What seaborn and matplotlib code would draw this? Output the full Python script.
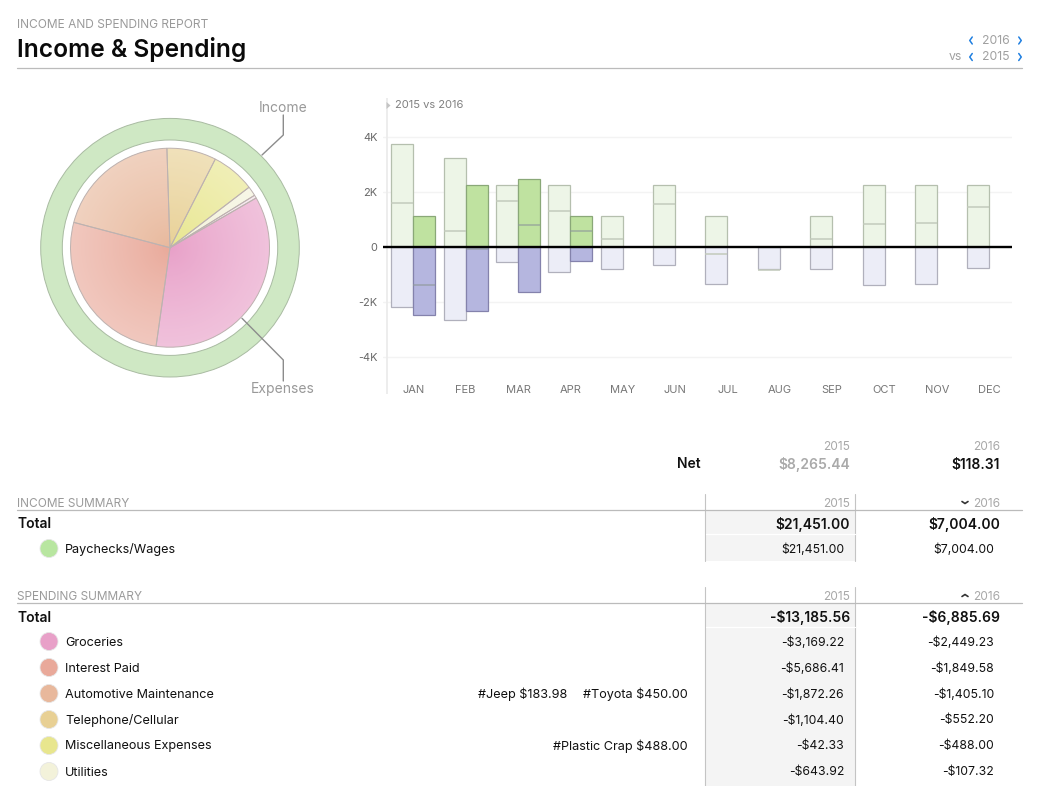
import numpy as np
import pandas as pd
import matplotlib
matplotlib.use("Agg")
import matplotlib.pyplot as plt
from matplotlib.patches import Circle, Rectangle
import seaborn as sns

W, H = 1038, 786

months = ["JAN", "FEB", "MAR", "APR", "MAY", "JUN", "JUL", "AUG", "SEP", "OCT", "NOV", "DEC"]
income_2015 = [3745, 3240, 2250, 2250, 1130, 2250, 1130, np.nan, 1130, 2250, 2250, 2250]
income_2016 = [1130, 2250, 2470, 1130, np.nan, np.nan, np.nan, np.nan, np.nan, np.nan, np.nan, np.nan]
spend_2015_m = [-2160, -2650, -550, -910, -800, -650, -1350, -800, -800, -1380, -1350, -760]
spend_2016_m = [-2470, -2330, -1640, -510, np.nan, np.nan, np.nan, np.nan, np.nan, np.nan, np.nan, np.nan]
net_2015 = [1620, 590, 1700, 1330, 310, 1590, -230, -820, 310, 860, 900, 1480]
net_2016 = [-1360, -70, 820, 590]

categories = ["Groceries", "Interest Paid", "Automotive Maintenance", "Telephone/Cellular",
              "Miscellaneous Expenses", "Utilities"]
cat_colors = ["#e8a0c8", "#e9a99a", "#e8b89c", "#e8d094", "#e8e68e", "#f3f2da"]
spend_2015 = [-3169.22, -5686.41, -1872.26, -1104.40, -42.33, -643.92]
spend_2016 = [-2449.23, -1849.58, -1405.10, -552.20, -488.00, -107.32]
other_2016 = -34.26
tags = {2: [("#Jeep $183.98", 567), ("#Toyota $450.00", 688)], 4: [("#Plastic Crap $488.00", 688)]}
income_total = [21451.00, 7004.00]
spend_total = [-13185.56, -6885.69]
net_total = [8265.44, 118.31]


def money(v):
    return f"-${abs(v):,.2f}" if v < 0 else f"${v:,.2f}"


def px_axes(fig, left, top, right, bottom):
    return fig.add_axes([left / W, 1 - bottom / H, (right - left) / W, (bottom - top) / H])


sns.set_theme(style="white")
plt.rcParams["font.family"] = ["Inter", "DejaVu Sans"]

fig = plt.figure(figsize=(W / 100, H / 100), dpi=100, facecolor="white")

# overlay in pixel coordinates for the report text and rules
ov = fig.add_axes([0, 0, 1, 1], zorder=5)
ov.set_xlim(0, W)
ov.set_ylim(H, 0)
ov.axis("off")
ov.patch.set_alpha(0)


def txt(x, y, s, size=9.4, color="#111111", ha="left", weight="normal"):
    ov.text(x, y + 1, s, fontsize=size, color=color, ha=ha, va="center", fontweight=weight)


def chevron(x, y, kind, color, w=2.5, h=3.5, lw=1.1):
    if kind == "left":
        ov.plot([x + w / 2, x - w / 2, x + w / 2], [y - h, y, y + h], color=color, lw=lw)
    elif kind == "right":
        ov.plot([x - w / 2, x + w / 2, x - w / 2], [y - h, y, y + h], color=color, lw=lw)
    elif kind == "down":
        ov.plot([x - h, x, x + h], [y - w / 2, y + w / 2, y - w / 2], color=color, lw=lw)
    else:
        ov.plot([x - h, x, x + h], [y + w / 2, y - w / 2, y + w / 2], color=color, lw=lw)


# header
txt(17, 24.5, "INCOME AND SPENDING REPORT", size=8.6, color="#9a9a9a")
txt(17, 48.5, "Income & Spending", size=17.65, color="#0a0a0a", weight="semibold")
ov.plot([17, 1022], [68, 68], color="#bbbbbb", lw=0.9)
txt(996, 40, "2016", size=8.8, color="#a0a0a0", ha="center")
txt(996, 56.5, "2015", size=8.8, color="#a0a0a0", ha="center")
txt(955, 56.5, "vs", size=8.8, color="#a0a0a0", ha="center")
for yy in (40.5, 57):
    chevron(971, yy, "left", "#1f7fe0")
    chevron(1020, yy, "right", "#1f7fe0")

# pie and income ring
pie_ax = px_axes(fig, 170 - 135, 247.7 - 135, 170 + 135, 247.7 + 135)
pie_vals = [abs(v) for v in spend_2016] + [abs(other_2016)]
pie_cols = cat_colors + ["#f3dfe8"]
pie_ax.pie([income_total[1]], radius=129.3, colors=["#cfe8c4"], startangle=90,
           wedgeprops=dict(width=21.6, edgecolor="#a9bba2", linewidth=0.7))
wedges, _ = pie_ax.pie(pie_vals, radius=99.5, colors=pie_cols, startangle=30, counterclock=False,
                       wedgeprops=dict(linewidth=0))
xx, yy = np.meshgrid(np.linspace(-100, 100, 400), np.linspace(-100, 100, 400))
rr = np.clip(np.hypot(xx, yy) / 99.5, 0, 1)
fade = np.ones(rr.shape + (4,))
fade[..., 3] = 0.36 * rr ** 0.8
im = pie_ax.imshow(fade, extent=(-100, 100, -100, 100), zorder=2, interpolation="bilinear")
im.set_clip_path(Circle((0, 0), 99.5, transform=pie_ax.transData))
pie_ax.pie(pie_vals, radius=99.5, colors=["none"] * len(pie_vals), startangle=30, counterclock=False,
           wedgeprops=dict(edgecolor="#bdb2b0", linewidth=0.7, zorder=3))
pie_ax.set_xlim(-135, 135)
pie_ax.set_ylim(-135, 135)
pie_ax.set_aspect("equal")
pie_ax.axis("off")

ov.plot([262, 283.3, 283.3], [155, 135, 115], color="#8c8c8c", lw=1.0)
ov.plot([242, 283.3, 283.3], [318.3, 360, 381], color="#8c8c8c", lw=1.0)
txt(283, 106.5, "Income", size=10, color="#999999", ha="center")
txt(283, 388, "Expenses", size=10, color="#999999", ha="center")

# monthly bars
month_px = 52.36
bar_ax = px_axes(fig, 383, 98, 1012, 394)
bar_ax.set_zorder(2)
bars = pd.DataFrame({
    "month": months * 2,
    "year": ["2015"] * 12 + ["2016"] * 12,
    "income": income_2015 + income_2016,
    "spend": spend_2015_m + spend_2016_m,
})
bar_ax.grid(axis="y", color="#f3f3f3", lw=1.0)
bar_ax.set_axisbelow(True)
sns.barplot(data=bars, x="month", y="income", hue="year", order=months, hue_order=["2015", "2016"],
            palette={"2015": "#edf5e7", "2016": "#bfe2a0"}, width=0.84, gap=0, errorbar=None,
            saturation=1, legend=False, ax=bar_ax, linewidth=0)
sns.barplot(data=bars, x="month", y="spend", hue="year", order=months, hue_order=["2015", "2016"],
            palette={"2015": "#ecedf7", "2016": "#b5b6df"}, width=0.84, gap=0, errorbar=None,
            saturation=1, legend=False, ax=bar_ax, linewidth=0)
edge_2015 = {"#edf5e7": "#b5bfae", "#ecedf7": "#b0b0bc"}
edge_2016 = {"#bfe2a0": "#8aa878", "#b5b6df": "#8482ac"}
for p in bar_ax.patches:
    key = matplotlib.colors.to_hex(p.get_facecolor())
    p.set_edgecolor({**edge_2015, **edge_2016}.get(key, "none"))
    p.set_linewidth(0.9)
half = 0.42
bar_ax.hlines(net_2015, np.arange(12) - half, np.arange(12), color="#c3cabc", lw=1.1, zorder=4)
bar_ax.hlines(net_2016, np.arange(4), np.arange(4) + half, color="#8f9a9a", lw=1.1, zorder=4, alpha=0.75)
bar_ax.axhline(0, color="#000000", lw=1.7, zorder=5)
bar_ax.axvline(-0.5, color="#ececec", lw=1.3)
bar_ax.set_xlim((383 - 413.3) / month_px, (1012 - 413.3) / month_px)
bar_ax.set_ylim((247.3 - 394) * 2000 / 55, (247.3 - 98) * 2000 / 55)
bar_ax.set_yticks([-4000, -2000, 0, 2000, 4000], ["-4K", "-2K", "0", "2K", "4K"])
bar_ax.set_xlabel("")
bar_ax.set_ylabel("")
bar_ax.tick_params(axis="y", length=0, pad=4, labelsize=7.9, labelcolor="#666666")
bar_ax.tick_params(axis="x", length=0, pad=-6.7, labelsize=8.0, labelcolor="#777777")
sns.despine(ax=bar_ax, left=True, bottom=True)
bar_ax.patch.set_alpha(0)

ov.fill([386.5, 390.5, 386.5], [102, 105.5, 109], color="#c4c4c4", lw=0)
txt(395, 104.5, "2015 vs 2016", size=8.05, color="#808080")

# net block
txt(850, 446.5, "2015", size=8.6, color="#a8a8a8", ha="right")
txt(1000, 446.5, "2016", size=8.6, color="#a8a8a8", ha="right")
txt(701, 463.5, "Net", size=10, ha="right", weight="semibold")
txt(850, 463.5, money(net_total[0]), size=10, color="#aaaaaa", ha="right", weight="semibold")
txt(1000, 463.5, money(net_total[1]), size=10, ha="right", weight="semibold")


def section(title, head_y, total_vals, chev, rows, colors, col_2015, col_2016, body_end):
    rule_y = head_y + 7
    top_y = head_y - 9
    ov.add_patch(Rectangle((705, rule_y), 150, body_end - rule_y, color="#f4f4f4", lw=0))
    ov.plot([705, 705], [top_y, body_end], color="#c4c4c4", lw=0.8)
    ov.plot([855, 855], [top_y, body_end], color="#c4c4c4", lw=0.8)
    ov.plot([17, 1022], [rule_y, rule_y], color="#bbbbbb", lw=0.9)
    ov.plot([706, 855], [rule_y + 24, rule_y + 24], color="white", lw=0.9)
    txt(17, head_y, title, size=8.55, color="#9a9a9a")
    txt(850, head_y, "2015", size=8.6, color="#a8a8a8", ha="right")
    txt(1000, head_y, "2016", size=8.6, color="#a8a8a8", ha="right")
    chevron(965, head_y - 0.5, chev, "#333333", w=2, h=3, lw=1.2)
    txt(17, rule_y + 13.5, "Total", size=10, weight="semibold")
    txt(850, rule_y + 13.5, money(total_vals[0]), size=10, ha="right", weight="semibold")
    txt(1000, rule_y + 13.5, money(total_vals[1]), size=10, ha="right", weight="semibold")
    for i, name in enumerate(rows):
        y = rule_y + 38.5 + i * 26
        ov.add_patch(Circle((49, y), 9, facecolor=colors[i], edgecolor="#e6e6e6", lw=0.6))
        txt(65, y, name, size=9.1)
        txt(844, y, money(col_2015[i]), size=8.8, ha="right")
        txt(994, y, money(col_2016[i]), size=8.8, ha="right")
        for tag, right in tags.get(i, []) if title.startswith("SPENDING") else []:
            txt(right, y, tag, size=9.1, ha="right")


section("INCOME SUMMARY", 503, income_total, "down", ["Paychecks/Wages"], ["#b8e6a0"],
        [income_total[0]], [income_total[1]], 561)
section("SPENDING SUMMARY", 596, spend_total, "up", categories, cat_colors, spend_2015, spend_2016, H)

fig.savefig("out.png", dpi=100)
